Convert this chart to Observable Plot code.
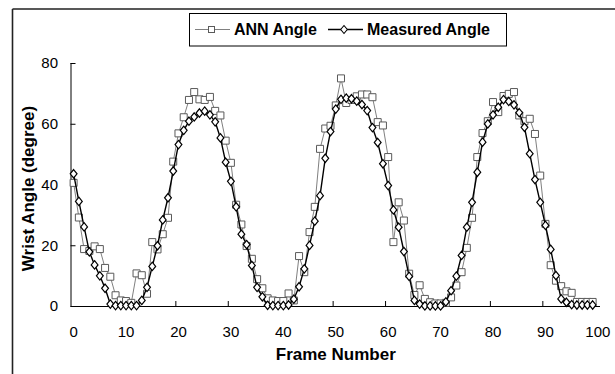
<!DOCTYPE html>
<html><head><meta charset="utf-8">
<script src="https://cdn.jsdelivr.net/npm/d3@7"></script>
<script src="https://cdn.jsdelivr.net/npm/@observablehq/plot@0.6"></script>
<style>
body{margin:0;background:#fff}
#chart{position:relative;width:615px;height:374px;overflow:hidden}
</style>
</head><body><div id="chart"></div>
<script>
// ---- data ----
const frames = d3.range(0, 100);
const annAngle = [
  40.7, 29.3, 18.9, 18.3, 19.8, 18.9, 12.7, 9.8, 3.7, 2.0,
  1.8, 1.2, 10.9, 10.3, 4.2, 21.2, 18.8, 23.8, 29.2, 47.7,
  57.0, 62.3, 68.0, 70.6, 68.2, 68.0, 69.0, 64.4, 62.9, 54.6,
  47.3, 33.5, 27.0, 19.9, 15.7, 9.0, 6.0, 2.7, 2.0, 1.8,
  1.8, 4.3, 2.0, 16.6, 11.3, 24.5, 32.8, 51.9, 58.6, 59.5,
  66.2, 75.1, 67.0, 68.0, 69.2, 69.8, 69.8, 68.9, 60.7, 59.6,
  49.2, 21.2, 34.3, 28.3, 10.8, 3.8, 7.0, 2.5, 1.4, 1.0,
  1.0, 1.2, 3.0, 6.9, 11.3, 19.3, 29.2, 49.2, 57.1, 61.0,
  67.3, 64.0, 69.3, 70.0, 70.6, 62.9, 61.0, 61.8, 56.8, 43.1,
  27.2, 13.6, 8.5, 6.7, 5.0, 4.5, 1.5, 1.5, 1.5, 1.5
];
const measuredAngle = [
  43.7, 34.6, 26.2, 18.0, 13.7, 10.1, 6.0, 0.8, 0.3, 0.3,
  0.3, 0.3, 0.3, 2.0, 6.3, 13.2, 20.0, 28.5, 35.8, 44.6,
  53.3, 58.0, 61.0, 62.4, 63.7, 64.3, 63.1, 60.8, 55.5, 47.5,
  41.2, 32.8, 23.8, 20.4, 13.5, 6.3, 3.2, 0.4, 0.3, 0.3,
  0.3, 0.5, 2.4, 6.5, 12.4, 20.1, 28.1, 36.5, 48.8, 57.6,
  65.0, 68.2, 68.6, 68.4, 67.6, 66.5, 64.5, 58.9, 54.0, 47.0,
  39.8, 31.8, 26.1, 18.1, 9.9, 2.0, 0.8, 0.2, 0.2, 0.2,
  0.2, 1.5, 5.2, 10.0, 16.8, 26.1, 34.3, 44.2, 54.1, 60.1,
  63.1, 65.6, 68.1, 67.5, 66.4, 63.8, 59.0, 50.3, 41.8, 34.3,
  26.7, 18.8, 10.2, 2.5, 1.4, 0.6, 0.5, 0.5, 0.5, 0.5
];
const xTickLabels = [0, 10, 20, 30, 40, 50, 60, 70, 80, 90, 100];
const xTickMarks = [9.5, 19.5, 29.5, 39.5, 49.5, 59.5, 69.5, 79.5, 89.5, 99.5];
const yTicks = [0, 20, 40, 60, 80];
const seriesNames = ["ANN Angle", "Measured Angle"];
const xTitle = "Frame Number";
const yTitle = "Wrist Angle (degree)";

const ann = frames.map((f, i) => ({frame: f, angle: annAngle[i]}));
const measured = frames.map((f, i) => ({frame: f, angle: measuredAngle[i]}));

const FONT = "'Liberation Sans', Arial, Helvetica, sans-serif";
const squareSym = {draw(ctx) { ctx.rect(-3.5, -3.5, 7, 7); }};
const diamondSym = {draw(ctx) { ctx.moveTo(0, -4.2); ctx.lineTo(3.4, 0); ctx.lineTo(0, 4.2); ctx.lineTo(-3.4, 0); ctx.closePath(); }};
const ANN_LINE = "#808080", ANN_MARK = "#5a5a5a";

const svg = Plot.plot({
  width: 615, height: 374,
  marginLeft: 70.5, marginRight: 15, marginTop: 63, marginBottom: 68,
  style: {fontFamily: FONT, fontSize: "15px", color: "#000", background: "transparent", overflow: "visible"},
  x: {domain: [-0.5, 100.5]},
  y: {domain: [0, 80]},
  marks: [
    // axis lines
    Plot.ruleX([-0.5], {stroke: "#000", strokeWidth: 1}),
    Plot.ruleY([0], {stroke: "#000", strokeWidth: 1}),
    // inward tick marks
    Plot.axisY(yTicks, {tickSize: 5, dx: 5, tickFormat: () => "", label: null, stroke: "#000"}),
    Plot.axisX(xTickMarks, {tickSize: 5, dy: -5, tickFormat: () => "", label: null, stroke: "#000"}),
    // tick labels
    Plot.axisY(yTicks, {tickSize: 0, tickPadding: 13, fontSize: 15, label: null}),
    Plot.axisX(xTickLabels, {tickSize: 0, tickPadding: 20, fontSize: 15, label: null}),
    // axis titles
    Plot.text([xTitle], {frameAnchor: "bottom", dy: 48, text: d => d, fontWeight: "bold", fontSize: 17, lineAnchor: "middle", textAnchor: "middle"}),
    Plot.text([yTitle], {frameAnchor: "left", dx: -42, dy: 3.5, rotate: -90, text: d => d, fontWeight: "bold", fontSize: 17, lineAnchor: "middle", textAnchor: "middle"}),
    // series
    Plot.line(ann, {x: "frame", y: "angle", stroke: ANN_LINE, strokeWidth: 1}),
    Plot.dot(ann, {x: "frame", y: "angle", symbol: squareSym, r: 4, stroke: ANN_MARK, fill: "white", strokeWidth: 1}),
    Plot.line(measured, {x: "frame", y: "angle", stroke: "#000", strokeWidth: 1.4}),
    Plot.dot(measured, {x: "frame", y: "angle", symbol: diamondSym, r: 4, stroke: "#000", fill: "white", strokeWidth: 1.2})
  ]
});

const s = d3.select(svg);
// outer chart border (top and left visible)
s.append("path").attr("d", "M12.5,9 H620 M12.5,9 V380")
  .attr("fill", "none").attr("stroke", "#222").attr("stroke-width", 1.6);

// legend
const lg = s.append("g").attr("font-family", FONT).attr("text-anchor", "start");
lg.append("rect").attr("x", 189.5).attr("y", 13.5).attr("width", 317).attr("height", 32.5)
  .attr("fill", "white").attr("stroke", "#000").attr("stroke-width", 1);
lg.append("line").attr("x1", 195).attr("x2", 230).attr("y1", 29.5).attr("y2", 29.5).attr("stroke", ANN_LINE);
lg.append("rect").attr("x", 208.5).attr("y", 26.5).attr("width", 6).attr("height", 6)
  .attr("fill", "white").attr("stroke", ANN_MARK);
lg.append("text").attr("x", 234).attr("y", 35).attr("text-anchor", "start").attr("font-size", 16).attr("font-weight", "bold").text(seriesNames[0]);
lg.append("line").attr("x1", 328).attr("x2", 363).attr("y1", 29.5).attr("y2", 29.5).attr("stroke", "#000").attr("stroke-width", 1.3);
lg.append("path").attr("d", "M344,25.5 L347.3,29.5 L344,33.5 L340.7,29.5 Z")
  .attr("fill", "white").attr("stroke", "#000").attr("stroke-width", 1.1);
lg.append("text").attr("x", 367).attr("y", 35).attr("text-anchor", "start").attr("font-size", 16).attr("font-weight", "bold").text(seriesNames[1]);

document.getElementById("chart").appendChild(svg);
</script>
</body></html>
